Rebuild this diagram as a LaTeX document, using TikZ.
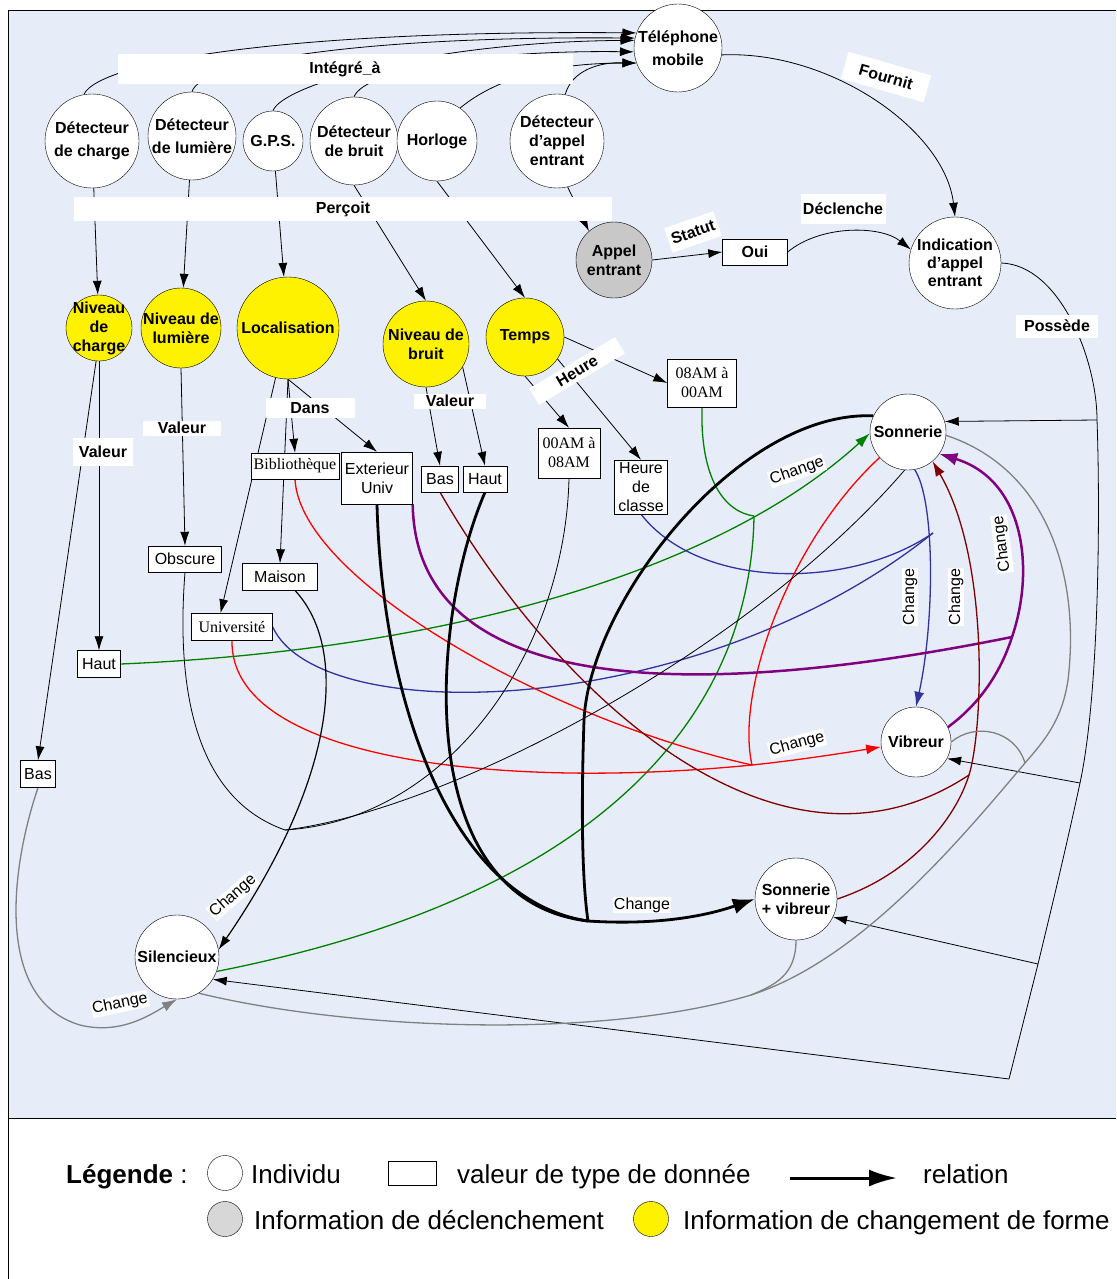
\documentclass[tikz,border=0pt]{standalone}
\usepackage{fontspec}
\setmainfont{Liberation Sans}
\newfontfamily\timesf{Liberation Serif}
\usepackage{tikz}
\usetikzlibrary{arrows.meta}
\definecolor{cfond}{RGB}{230,237,248}
\definecolor{cgris}{RGB}{128,128,128}
\definecolor{cgrisclair}{RGB}{200,200,200}
\definecolor{cgrislegende}{RGB}{215,215,215}
\definecolor{cbordeaux}{RGB}{128,0,0}
\definecolor{cviolet}{RGB}{128,0,128}
\definecolor{cbleu}{RGB}{51,51,160}
\definecolor{cvert}{RGB}{0,128,0}
\pgfdeclarelayer{fond}
\pgfdeclarelayer{liens}
\pgfsetlayers{fond,liens,main}

\begin{document}
\begin{tikzpicture}[x=1pt, y=-1pt,
                individu/.style={circle, draw, fill=white, inner sep=0pt, align=center, font=\bfseries\fontsize{16}{19}\selectfont},
                forme/.style={individu, fill=yellow},
                valeur/.style={rectangle, draw, fill=white, inner sep=0pt, align=center, font=\fontsize{16}{19}\selectfont},
                valserif/.style={valeur, font=\timesf\fontsize{16}{19}\selectfont},
                relation/.style={rectangle, fill=white, inner sep=0pt, font=\bfseries\fontsize{16}{19}\selectfont},
                chg/.style={rectangle, fill=white, inner sep=1pt, font=\fontsize{16}{19}\selectfont},
                legtexte/.style={anchor=base west, inner sep=0pt, font=\fontsize{26}{30}\selectfont},
                paths/.style={line width=0.8pt, -{Latex[length=14pt,width=9pt]}},
                fleche/.style={-{Latex[length=15pt,width=10pt]}},
                trait/.style={line width=0.8pt},
                couleur/.style={line width=1.3pt},
                epais/.style={line width=2.8pt}
            ]
                \useasboundingbox (0,0) rectangle (1116,1279);

                % Cadre
                \begin{pgfonlayer}{fond}
                \fill[cfond] (8,10) rectangle (1116,1118);
                \draw[line width=0.8pt] (1116,10) -- (8,10) -- (8,1279);
                \draw[line width=0.8pt] (8,1118) -- (1116,1118);
                \end{pgfonlayer}

                % Nodes: capteurs
                \node[individu, minimum size=94pt, font=\bfseries\fontsize{16}{23}\selectfont] (dcharge) at (92,141) {Détecteur\\de charge};
                \node[individu, minimum size=88pt, font=\bfseries\fontsize{16}{23}\selectfont] (dlum) at (192,136) {Détecteur\\de lumière};
                \node[individu, minimum size=60pt] (gps) at (273,141) {G.P.S.};
                \node[individu, minimum size=88pt] (dbruit) at (354,141) {Détecteur\\de bruit};
                \node[individu, minimum size=80pt] (horloge) at (437,141) {Horloge};
                \node[individu, minimum size=94pt] (dappel) at (557,141) {Détecteur\\d’appel\\entrant};
                \node[individu, minimum size=88pt, font=\bfseries\fontsize{16}{23}\selectfont] (tel) at (678,48) {Téléphone\\mobile};
                \node[individu, minimum size=76pt, fill=cgrisclair] (appel) at (614,260) {Appel\\entrant};
                \node[valeur, font=\bfseries\fontsize{16}{19}\selectfont, minimum width=65pt, minimum height=26pt] (oui) at (755,252) {Oui};
                \node[individu, minimum size=92pt, font=\bfseries\fontsize{16}{18}\selectfont] (indic) at (955,263) {Indication\\d’appel\\entrant};

                % Nodes: informations de changement de forme
                \node[forme, minimum size=66pt, inner sep=-5pt] (ncharge) at (99,328) {Niveau\\de\\charge};
                \node[forme, minimum size=80pt, inner sep=-3pt] (nlum) at (181,328) {Niveau de\\lumière};
                \node[forme, minimum size=102pt] (loc) at (288,328) {Localisation};
                \node[forme, minimum size=86pt] (nbruit) at (426,344) {Niveau de\\bruit};
                \node[forme, minimum size=78pt] (temps) at (525,337) {Temps};

                % Nodes: valeurs
                \node[valserif, minimum width=88pt, minimum height=26pt] (biblio) at (295,466) {Bibliothèque};
                \node[valeur, minimum width=71pt, minimum height=52pt] (ext) at (377,478) {Exterieur\\Univ};
                \node[valeur, minimum width=37pt, minimum height=26pt] (bbas) at (440,479) {Bas};
                \node[valeur, minimum width=44pt, minimum height=26pt] (bhaut) at (485,479) {Haut};
                \node[valserif, minimum width=62pt, minimum height=50pt] (t0008) at (569,453) {00AM à\\08AM};
                \node[valserif, minimum width=69pt, minimum height=48pt] (t0800) at (702,383) {08AM à\\00AM};
                \node[valeur, minimum width=53pt, minimum height=54pt] (hclasse) at (641,487) {Heure\\de\\classe};
                \node[valeur, minimum width=73pt, minimum height=26pt] (obscure) at (185,559) {Obscure};
                \node[valeur, minimum width=75pt, minimum height=27pt] (maison) at (280,577) {Maison};
                \node[valserif, minimum width=81pt, minimum height=27pt] (univ) at (232,627) {Université};
                \node[valeur, minimum width=43pt, minimum height=27pt] (chaut) at (99,664) {Haut};
                \node[valeur, minimum width=35pt, minimum height=27pt] (cbas) at (38,774) {Bas};

                % Nodes: modes
                \node[individu, minimum size=76pt] (sonnerie) at (908,432) {Sonnerie};
                \node[individu, minimum size=70pt] (vibreur) at (916,742) {Vibreur};
                \node[individu, minimum size=82pt] (sv) at (796,899) {Sonnerie\\+ vibreur};
                \node[individu, minimum size=84pt] (silence) at (177,957) {Silencieux};

                % Points de jonction
                \coordinate (pos1) at (1097,420);
                \coordinate (pos2) at (1080,783);
                \coordinate (pos3) at (1038,964);
                \coordinate (pos4) at (1009,1079);
                \coordinate (jnoir) at (285,830);
                \coordinate (jvert) at (754,516);
                \coordinate (jbleu) at (933,533);
                \coordinate (jrouge) at (752,765);
                \coordinate (jviolet) at (1012,637);
                \coordinate (jbordeaux) at (969,775);
                \coordinate (jepais) at (588,921);
                \coordinate (jgris) at (1025,763);
                \coordinate (jgris2) at (751,995);

                \begin{pgfonlayer}{liens}
                % Paths: Intégré_à
                \draw[paths] (dcharge.100) .. controls (100,60) and (300,30) .. (tel.160);
                \draw[paths] (dlum.north) .. controls (200,62) and (360,36) .. (tel.167);
                \draw[paths] (gps.north) .. controls (282,85) and (430,42) .. (tel.170);
                \draw[paths] (dbruit.north) .. controls (365,70) and (480,50) .. (tel.185);
                \draw[paths] (horloge.55) .. controls (500,75) and (560,63) .. (tel.200);
                \draw[paths] (dappel.80) .. controls (572,70) and (600,62) .. (tel.200);

                % Paths: Perçoit
                \draw[paths] (dcharge) -- (ncharge);
                \draw[paths] (dlum) -- (nlum);
                \draw[paths] (gps) -- (loc);
                \draw[paths] (dbruit.south) -- (nbruit.north);
                \draw[paths] (horloge.south) -- (temps.north);
                \draw[paths] (dappel.-77) -- (appel.131);

                % Paths: Statut, Déclenche, Fournit
                \draw[paths] (appel.east) -- (oui.west);
                \draw[paths] (oui.east) .. controls (820,225) and (880,225) .. (indic.163);
                \draw[paths] (tel.-9) .. controls (830,50) and (945,130) .. (indic.north);

                % Paths: Possède
                \draw[trait] (indic.east) .. controls (1060,265) and (1097,360) .. (pos1)
                    .. controls (1100,500) and (1100,690) .. (pos2)
                    .. controls (1066,848) and (1052,906) .. (pos3) -- (pos4);
                \draw[paths] (pos1) -- (sonnerie.16);
                \draw[paths] (pos2) -- (vibreur.-28);
                \draw[paths] (pos3) -- (sv.-26);
                \draw[paths] (pos4) -- (silence.-32);

                % Paths: Valeur, Dans, Heure
                \draw[paths] (ncharge.south) -- (chaut.north);
                \draw[paths] (ncharge.-95) -- (cbas.north);
                \draw[paths] (nlum.south) -- (obscure.north);
                \draw[paths] (loc.south) -- (biblio.north);
                \draw[paths] (loc.south) -- (ext.north);
                \draw[paths] (loc.south) -- (maison.north);
                \draw[paths] (loc.-104) -- (univ.130);
                \draw[paths] (nbruit.south) -- (bbas.north);
                \draw[paths] (nbruit.-32) -- (bhaut.north);
                \draw[paths] (temps.south) -- (t0008.north);
                \draw[paths] (temps.-34) -- (hclasse.north);
                \draw[paths] (temps.east) -- (t0800.west);

                % Paths: Change (vert)
                \draw[couleur, cvert, fleche] (chaut.east) .. controls (450,650) and (720,570) .. (sonnerie.182);
                \draw[couleur, cvert] (t0800.south) .. controls (700,480) and (725,512) .. (jvert);
                \draw[couleur, cvert] (jvert) .. controls (752,650) and (680,880) .. (silence.-20);

                % Paths: Change (bleu)
                \draw[couleur, cbleu, fleche] (sonnerie.-80) .. controls (935,500) and (935,620) .. (vibreur.north);
                \draw[couleur, cbleu] (univ.east) .. controls (320,730) and (700,720) .. (jbleu);
                \draw[couleur, cbleu] (hclasse.south) .. controls (700,590) and (850,590) .. (jbleu);

                % Paths: Change (rouge)
                \draw[couleur, red] (sonnerie.-138) .. controls (790,540) and (735,690) .. (jrouge);
                \draw[couleur, red, fleche] (jrouge) .. controls (800,760) and (850,752) .. (vibreur.188);
                \draw[couleur, red] (biblio.south) .. controls (300,580) and (550,720) .. (jrouge);
                \draw[couleur, red] (univ.south) .. controls (230,760) and (500,790) .. (jrouge);

                % Paths: Change (violet)
                \draw[cviolet, line width=2.5pt, -{Latex[length=18pt,width=13pt]}] (vibreur.25) .. controls (985,700) and (1003,665) .. (jviolet)
                    .. controls (1035,570) and (1025,480) .. (sonnerie.-35);
                \draw[cviolet, line width=2.5pt] (ext.south east) .. controls (415,660) and (600,720) .. (jviolet);

                % Paths: Change (bordeaux)
                \draw[couleur, cbordeaux, fleche] (sv.east) .. controls (910,875) and (955,820) .. (jbordeaux)
                    .. controls (983,730) and (990,560) .. (sonnerie.-50);
                \draw[couleur, cbordeaux] (bbas.south) .. controls (560,700) and (780,900) .. (jbordeaux);

                % Paths: Change (noir épais)
                \draw[epais] (sonnerie.155) .. controls (740,410) and (590,600) .. (584,720)
                    .. controls (581,810) and (582,880) .. (jepais);
                \draw[epais] (ext.south) .. controls (382,700) and (450,900) .. (jepais);
                \draw[epais] (bhaut.south) .. controls (430,620) and (410,900) .. (jepais);
                \draw[epais, -{Latex[length=22pt,width=16pt]}] (jepais) .. controls (650,925) and (700,918) .. (sv.west);

                % Paths: Change (noir)
                \draw[trait] (obscure.south) .. controls (175,700) and (200,800) .. (jnoir);
                \draw[trait] (t0008.south) .. controls (565,650) and (450,820) .. (jnoir);
                \draw[trait] (sonnerie.-95) .. controls (750,650) and (450,810) .. (jnoir);
                \draw[paths, line width=1.2pt] (maison.-42) .. controls (350,650) and (335,780) .. (silence.10);

                % Paths: Change (gris)
                \draw[couleur, cgris, fleche] (cbas.south) .. controls (10,870) and (-5,1000) .. (80,1025)
                    .. controls (120,1035) and (150,1015) .. (silence.south);
                \draw[couleur, cgris] (sonnerie.-5) .. controls (1050,470) and (1080,580) .. (1068,680)
                    .. controls (1062,720) and (1045,740) .. (jgris)
                    .. controls (960,840) and (860,960) .. (jgris2)
                    .. controls (600,1040) and (350,1030) .. (silence.-59);
                \draw[couleur, cgris] (vibreur.east) .. controls (975,722) and (1015,730) .. (jgris);
                \draw[couleur, cgris] (sv.south) .. controls (796,975) and (775,985) .. (jgris2);
                \end{pgfonlayer}

                % Etiquettes des relations
                \node[relation, minimum width=455pt, minimum height=30pt] (integre) at (345,69) {Intégré\_à};
                \node[relation, minimum width=538pt, minimum height=24pt] (percoit) at (343,209) {Perçoit};
                \node[relation, minimum width=86pt, minimum height=28pt, rotate=-16] (fournit) at (886,77) {Fournit};
                \node[relation, minimum width=52pt, minimum height=26pt, rotate=19] (statut) at (693,232) {Statut};
                \node[relation, minimum width=85pt, minimum height=30pt] (declenche) at (843,209) {Déclenche};
                \node[relation, minimum width=82pt, minimum height=23pt] (possede) at (1057,326) {Possède};
                \node[relation, minimum width=60pt, minimum height=28pt] (valcharge) at (103,452) {Valeur};
                \node[relation, minimum width=78pt, minimum height=15pt] (vallum) at (182,428) {Valeur};
                \node[relation, minimum width=89pt, minimum height=20pt] (dans) at (310,408) {Dans};
                \node[relation, minimum width=72pt, minimum height=15pt] (valbruit) at (450,401) {Valeur};
                \node[relation, minimum width=100pt, minimum height=19pt, rotate=31] (heure) at (577,371) {Heure};

                % Etiquettes Change
                \node[chg, rotate=19] (chg1) at (797,471) {Change};
                \node[chg, rotate=90] (chg2) at (910,597) {Change};
                \node[chg, rotate=90] (chg3) at (956,597) {Change};
                \node[chg, rotate=97] (chg4) at (1002,544) {Change};
                \node[chg, rotate=15] (chg5) at (797,744) {Change};
                \node[chg] (chg6) at (642,905) {Change};
                \node[chg, rotate=41] (chg7) at (233,896) {Change};
                \node[chg, rotate=12] (chg8) at (120,1004) {Change};

                % Légende
                \node[legtexte] (legende) at (66,1183) {\textbf{Légende} :};
                \node[circle, draw, fill=white, minimum size=35pt, inner sep=0pt] (legind) at (225,1173) {};
                \node[legtexte] (txtind) at (251,1183) {Individu};
                \node[rectangle, draw, fill=white, minimum width=48pt, minimum height=24pt, inner sep=0pt] (legval) at (412,1173) {};
                \node[legtexte] (txtval) at (457,1183) {valeur de type de donnée};
                \coordinate (legA) at (790,1178);
                \coordinate (legB) at (897,1178);
                \draw[line width=3pt, -{Latex[length=28pt,width=17pt]}] (legA) -- (legB);
                \node[legtexte] (txtrel) at (923,1183) {relation};
                \node[circle, draw, fill=cgrislegende, minimum size=35pt, inner sep=0pt] (legdecl) at (225,1219) {};
                \node[legtexte] (txtdecl) at (254,1229) {Information de déclenchement};
                \node[circle, draw, fill=yellow, minimum size=35pt, inner sep=0pt] (legforme) at (651,1219) {};
                \node[legtexte] (txtforme) at (683,1229) {Information de changement de forme};
            \end{tikzpicture}
\end{document}
